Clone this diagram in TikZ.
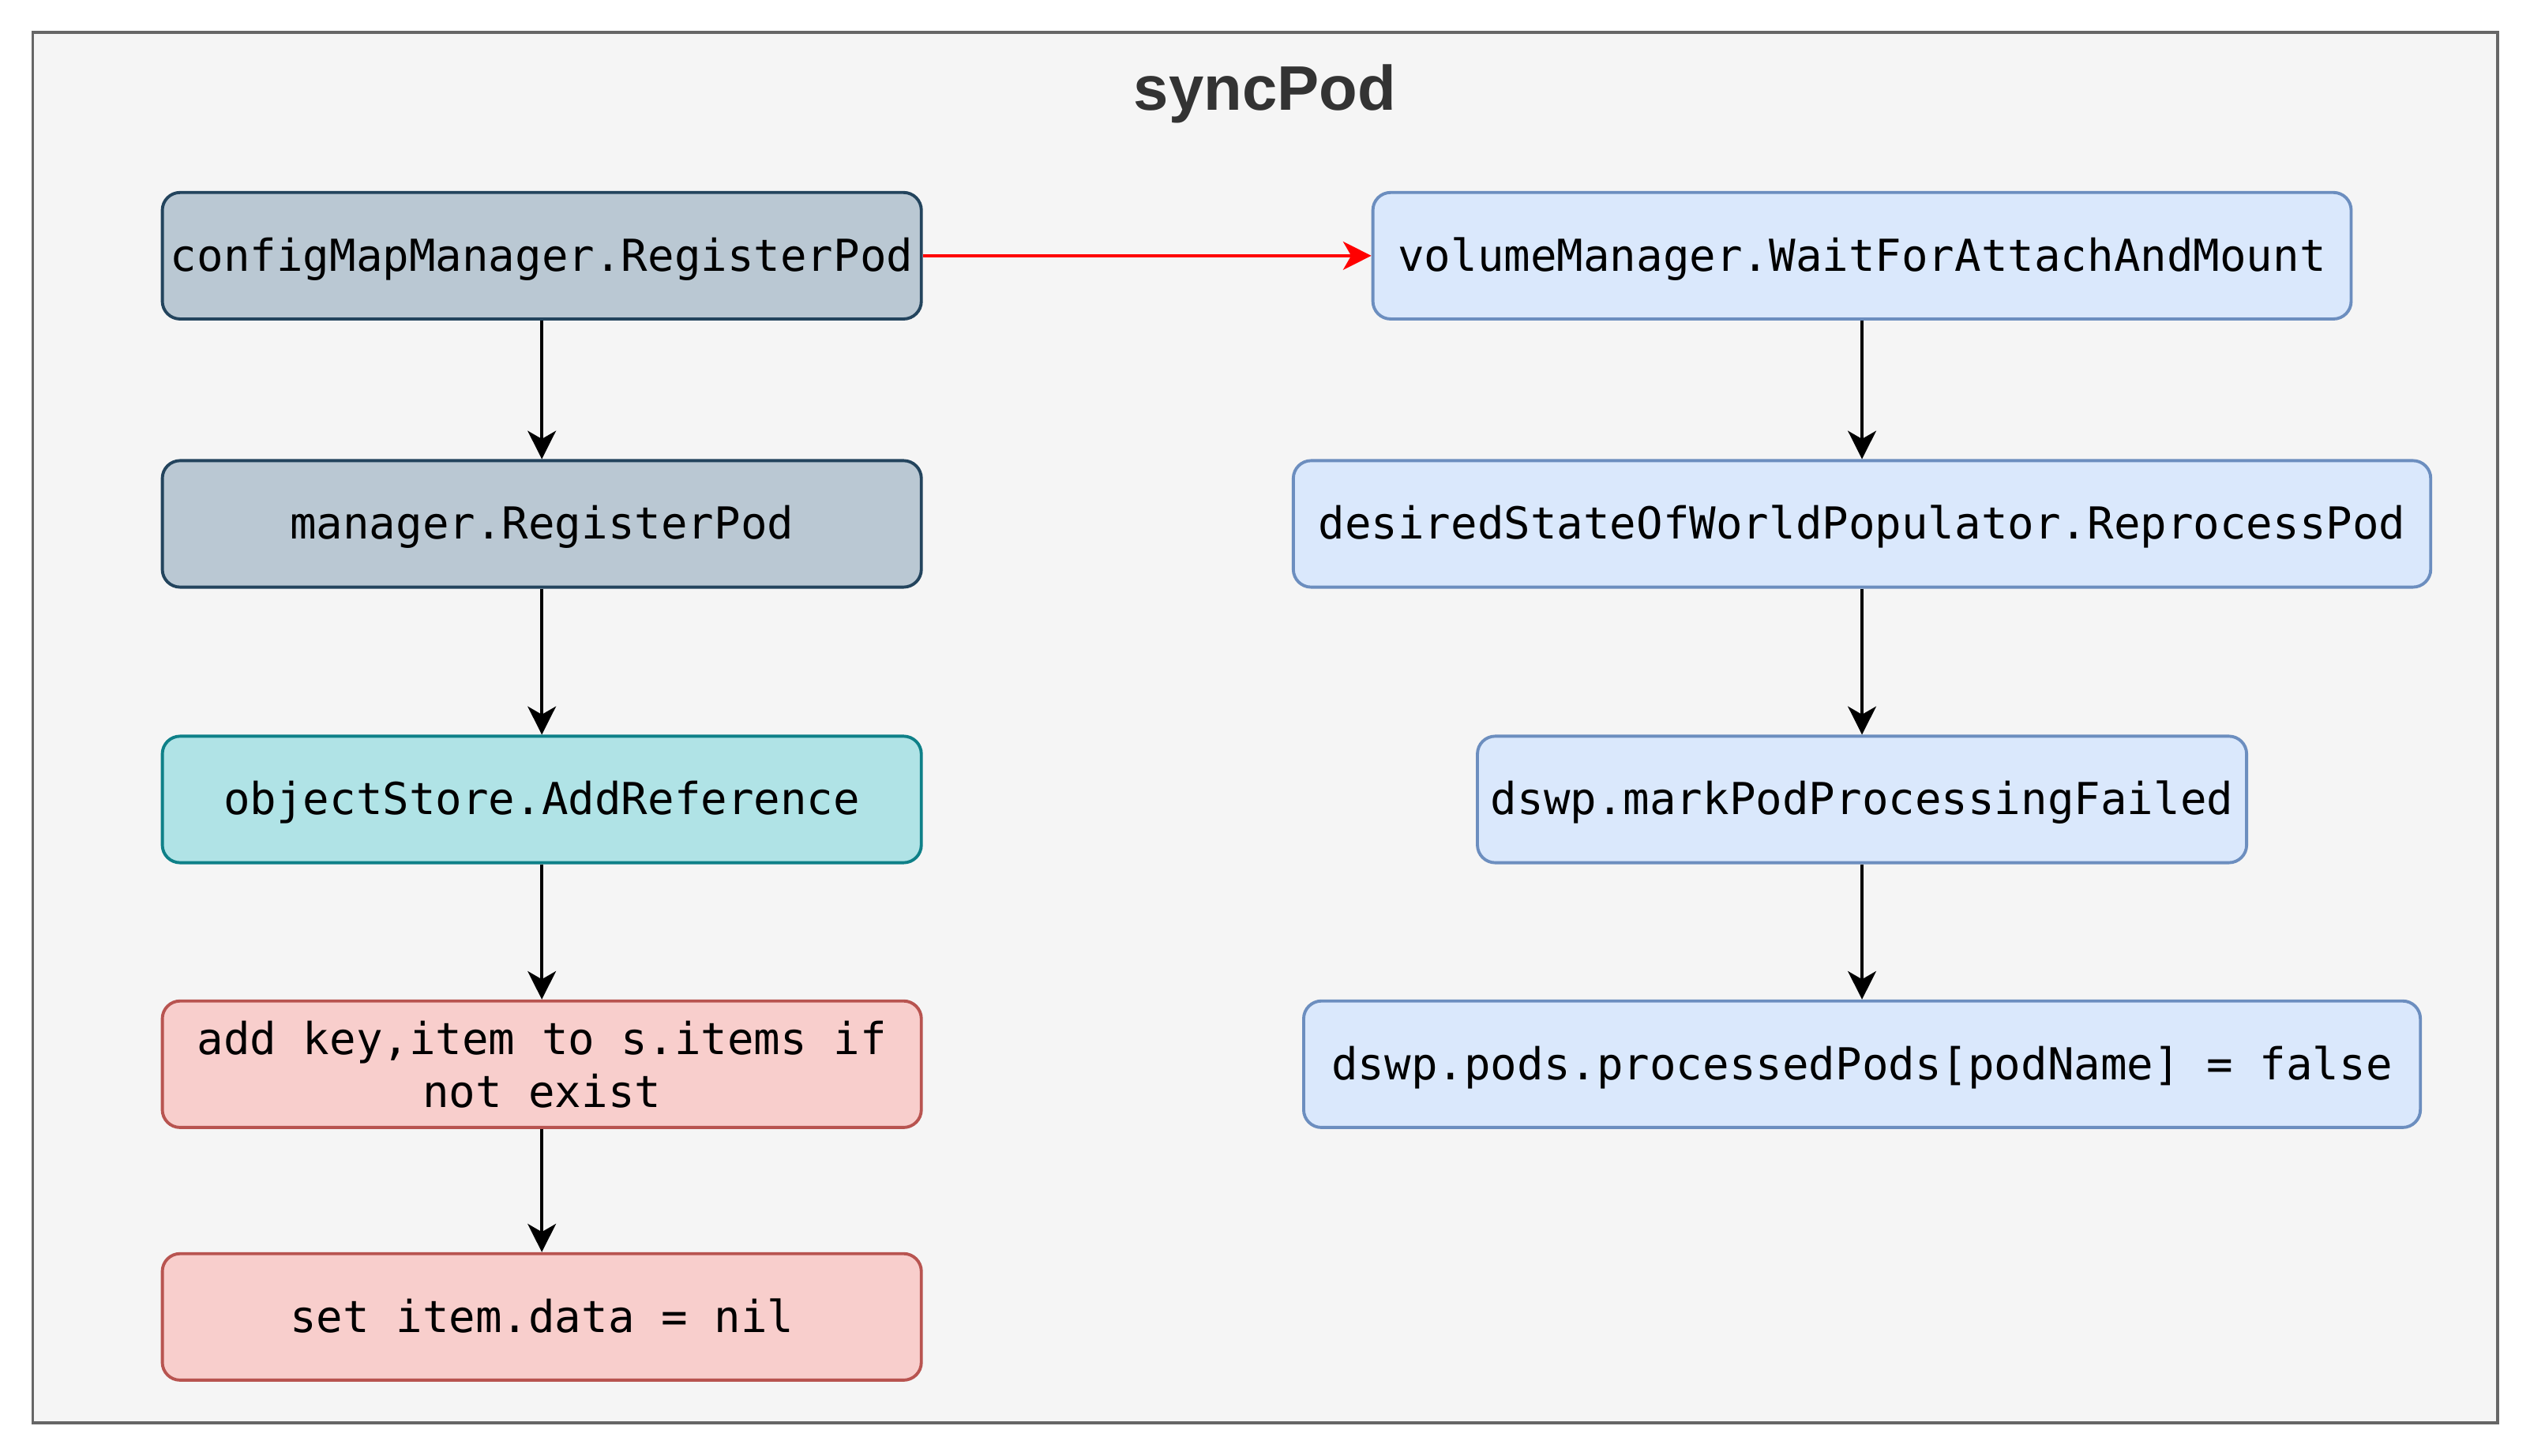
\documentclass[tikz,border=0pt]{standalone}
\usepackage{fontspec}
\setmainfont{Liberation Sans}
\newfontfamily\codefont{DejaVu Sans Mono}
\usetikzlibrary{arrows.meta}

\definecolor{framefill}{HTML}{F5F5F5}
\definecolor{framedraw}{HTML}{666666}
\definecolor{titlegray}{HTML}{333333}
\definecolor{mgrfill}{HTML}{BAC8D3}
\definecolor{mgrdraw}{HTML}{23445D}
\definecolor{storefill}{HTML}{B0E3E6}
\definecolor{storedraw}{HTML}{0E8088}
\definecolor{itemfill}{HTML}{F8CECC}
\definecolor{itemdraw}{HTML}{B85450}
\definecolor{volfill}{HTML}{DAE8FC}
\definecolor{voldraw}{HTML}{6C8EBF}

\begin{document}
\begin{tikzpicture}[x=1pt, y=-1pt,
    box/.style={line width=1.9pt, rounded corners=11pt, inner sep=0pt,
        minimum height=78.4pt, text height=22pt, text depth=3pt,
        font=\codefont\fontsize{27.3}{32.8}\selectfont},
    mgrbox/.style={box, draw=mgrdraw, fill=mgrfill},
    storebox/.style={box, draw=storedraw, fill=storefill},
    itembox/.style={box, draw=itemdraw, fill=itemfill},
    volbox/.style={box, draw=voldraw, fill=volfill},
    flow/.style={line width=2pt, -{Stealth[length=17.5pt, width=17.5pt, inset=5pt]}}
]

    \useasboundingbox (0,0) rectangle (1568,902.4);
    \draw[line width=1.9pt, draw=framedraw, fill=framefill] (20.3,20) rectangle (1548,882);
    \node[anchor=base, text=titlegray, font=\bfseries\fontsize{39}{47}\selectfont] (title) at (784,68.5) {syncPod};

    % configMap side
    \node[mgrbox, minimum width=470.4pt] (cfgmgr) at (335.8,158.5) {configMapManager.RegisterPod};
    \node[mgrbox, minimum width=470.4pt] (mgr) at (335.8,324.7) {manager.RegisterPod};
    \node[storebox, minimum width=470.4pt] (store) at (335.8,495.5) {objectStore.AddReference};
    \node[itembox, minimum width=470.4pt, align=center, text height={}, text depth={}] (additem) at (335.8,659.6) {add key,item to s.items if\\not exist};
    \node[itembox, minimum width=470.4pt] (setnil) at (335.8,816.2) {set item.data = nil};

    % volume side
    \node[volbox, minimum width=606.3pt] (volmgr) at (1154,158.5) {volumeManager.WaitForAttachAndMount};
    \node[volbox, minimum width=704.9pt] (reprocess) at (1154,324.7) {desiredStateOfWorldPopulator.ReprocessPod};
    \node[volbox, minimum width=476.7pt] (markfail) at (1154,495.5) {dswp.markPodProcessingFailed};
    \node[volbox, minimum width=692.1pt] (processed) at (1154,659.6) {dswp.pods.processedPods[podName] = false};

    \draw[flow] (cfgmgr) -- (mgr);
    \draw[flow] (mgr) -- (store);
    \draw[flow] (store) -- (additem);
    \draw[flow] (additem) -- (setnil);

    \draw[flow, red] (cfgmgr) -- (volmgr);

    \draw[flow] (volmgr) -- (reprocess);
    \draw[flow] (reprocess) -- (markfail);
    \draw[flow] (markfail) -- (processed);
\end{tikzpicture}
\end{document}
